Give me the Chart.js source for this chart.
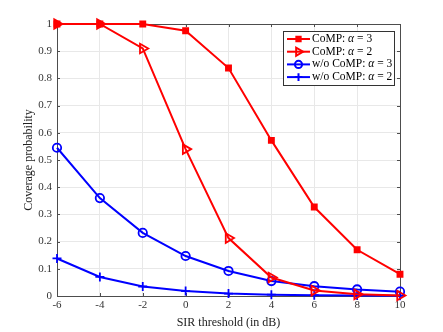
<!DOCTYPE html>
<html>
<head>
<meta charset="utf-8">
<script src="https://cdn.jsdelivr.net/npm/chart.js@4.4.1/dist/chart.umd.min.js"></script>
<style>
  html, body { margin: 0; padding: 0; background: #fff; }
  #wrap { width: 443px; height: 332px; }
</style>
</head>
<body>
<div id="wrap"><canvas id="cov"></canvas></div>
<script>
// SIR threshold values (dB)
const sir = [-6, -4, -2, 0, 2, 4, 6, 8, 10];
const compA3 = [1, 1, 1, 0.975, 0.838, 0.572, 0.327, 0.17, 0.08];
const compA2 = [1, 1, 0.91, 0.54, 0.213, 0.068, 0.02, 0.006, 0.002];
const woA3 = [0.545, 0.36, 0.232, 0.147, 0.092, 0.055, 0.036, 0.024, 0.016];
const woA2 = [0.138, 0.07, 0.035, 0.018, 0.009, 0.005, 0.003, 0.002, 0.001];
const seriesNames = ['CoMP: ', 'CoMP: ', 'w/o CoMP: ', 'w/o CoMP: '];
const alphas = ['3', '2', '3', '2'];
const xTicks = [-6, -4, -2, 0, 2, 4, 6, 8, 10];

const pts = arr => arr.map((v, i) => ({ x: sir[i], y: v }));
const serif = '"Liberation Serif", "DejaVu Serif", serif';

// box + inner ticks like matlab
const boxPlugin = {
  id: 'box',
  beforeDatasetsDraw(chart) {
    const { ctx, chartArea: a, scales } = chart;
    ctx.save();
    ctx.strokeStyle = '#4d4d4d';
    ctx.lineWidth = 1;
    ctx.strokeRect(a.left + 0.5, a.top + 0.5, a.right - a.left, a.bottom - a.top);
    ctx.beginPath();
    xTicks.forEach(t => {
      const px = Math.round(scales.x.getPixelForValue(t)) + 0.5;
      ctx.moveTo(px, a.bottom); ctx.lineTo(px, a.bottom - 3);
      ctx.moveTo(px, a.top); ctx.lineTo(px, a.top + 3);
    });
    for (let i = 0; i <= 10; i++) {
      const py = Math.round(scales.y.getPixelForValue(i / 10)) + 0.5;
      ctx.moveTo(a.left, py); ctx.lineTo(a.left + 3, py);
      ctx.moveTo(a.right, py); ctx.lineTo(a.right - 3, py);
    }
    ctx.stroke();
    ctx.restore();
  }
};

// legend drawn inside plot, top right
const legendPlugin = {
  id: 'inLegend',
  afterDraw(chart) {
    const { ctx, chartArea: a } = chart;
    const x0 = a.right - 117, y0 = a.top + 7, w = 111, h = 54, rowH = 12.7;
    ctx.save();
    ctx.fillStyle = '#fff';
    ctx.fillRect(x0, y0, w, h);
    ctx.strokeStyle = '#333';
    ctx.lineWidth = 1;
    ctx.strokeRect(x0 + 0.5, y0 + 0.5, w, h);
    chart.data.datasets.forEach((ds, i) => {
      const cy = y0 + 8 + i * rowH;
      ctx.strokeStyle = ds.borderColor;
      ctx.lineWidth = 2;
      ctx.beginPath();
      ctx.moveTo(x0 + 4, cy); ctx.lineTo(x0 + 27, cy);
      ctx.stroke();
      ctx.fillStyle = ds.pointBackgroundColor;
      Chart.helpers.drawPoint(ctx, {
        pointStyle: ds.pointStyle, rotation: ds.pointRotation || 0,
        radius: ds.pointRadius * 0.85, borderWidth: ds.pointBorderWidth
      }, x0 + 15.5, cy);
      ctx.fillStyle = '#000';
      ctx.textBaseline = 'middle';
      ctx.font = '11.5px ' + serif;
      let tx = x0 + 29;
      ctx.fillText(seriesNames[i], tx, cy);
      tx += ctx.measureText(seriesNames[i]).width;
      ctx.font = 'italic 11.5px ' + serif;
      ctx.fillText('\u03b1', tx, cy);
      tx += ctx.measureText('\u03b1').width;
      ctx.font = '11.5px ' + serif;
      ctx.fillText(' = ' + alphas[i], tx, cy);
    });
    ctx.restore();
  }
};

function line(label, data, color, style, fill, rot, r) {
  return {
    label: label,
    data: pts(data),
    borderColor: color,
    backgroundColor: color,
    borderWidth: 2,
    clip: false,
    pointStyle: style,
    pointRotation: rot || 0,
    pointRadius: r,
    pointBorderWidth: 1.8,
    pointBackgroundColor: fill ? color : 'rgba(255,255,255,0)',
    pointBorderColor: color,
    tension: 0
  };
}

new Chart(document.getElementById('cov'), {
  type: 'line',
  data: {
    datasets: [
      line('CoMP: α = 3', compA3, '#ff0000', 'rect', true, 0, 3.6),
      line('CoMP: α = 2', compA2, '#ff0000', 'triangle', false, 90, 5.5),
      line('w/o CoMP: α = 3', woA3, '#0000ff', 'circle', false, 0, 4.2),
      line('w/o CoMP: α = 2', woA2, '#0000ff', 'cross', false, 0, 4.5)
    ]
  },
  options: {
    responsive: true,
    maintainAspectRatio: false,
    animation: false,
    layout: { padding: { top: 24, right: 43, left: 22, bottom: 0 } },
    plugins: { legend: { display: false }, tooltip: { enabled: false } },
    scales: {
      x: {
        type: 'linear', min: -6, max: 10,
        afterBuildTicks: s => { s.ticks = xTicks.map(v => ({ value: v })); },
        afterFit: s => { s.height = 36; },
        grid: { color: '#e8e8e8', drawTicks: false },
        border: { color: '#4d4d4d' },
        ticks: { color: '#333', padding: 3, font: { family: serif, size: 11 } },
        title: { display: true, text: 'SIR threshold (in dB)', color: '#222', padding: { top: 0, bottom: 2 }, font: { family: serif, size: 12 } }
      },
      y: {
        min: 0, max: 1,
        afterFit: s => { s.width = 35; },
        grid: { color: '#e8e8e8', drawTicks: false },
        border: { color: '#4d4d4d' },
        ticks: {
          stepSize: 0.1, color: '#333', padding: 5, font: { family: serif, size: 11 },
          callback: v => (Math.round(v * 10) / 10).toString()
        },
        title: { display: true, text: 'Coverage probability', color: '#222', padding: { top: 0, bottom: 0 }, font: { family: serif, size: 12 } }
      }
    }
  },
  plugins: [boxPlugin, legendPlugin]
});
</script>
</body>
</html>
